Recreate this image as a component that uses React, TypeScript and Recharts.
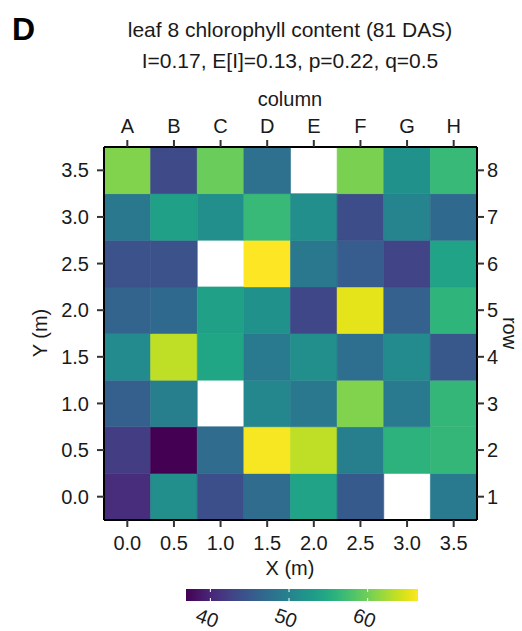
import React from 'react';
import { ScatterChart, Scatter, XAxis, YAxis, ReferenceArea } from 'recharts';

// grid positions (m) and labels
const xPositions = [0, 0.5, 1, 1.5, 2, 2.5, 3, 3.5];
const yPositions = [0, 0.5, 1, 1.5, 2, 2.5, 3, 3.5];
const columnLabels = ['A', 'B', 'C', 'D', 'E', 'F', 'G', 'H'];
const rowLabels = ['1', '2', '3', '4', '5', '6', '7', '8'];

// chlorophyll content per row (row 1 = Y 0.0), columns A..H; null = missing plant
const row1 = [40.7, 51.4, 44.0, 47.2, 54.0, 45.2, null, 49.0];
const row2 = [42.2, 36.9, 47.2, 66.1, 63.5, 49.6, 55.8, 56.4];
const row3 = [45.7, 49.6, null, 50.5, 48.7, 60.8, 49.0, 56.4];
const row4 = [50.8, 63.5, 54.3, 49.0, 51.4, 47.5, 50.8, 44.9];
const row5 = [46.3, 46.9, 53.7, 51.7, 43.1, 65.2, 46.0, 56.1];
const row6 = [44.3, 44.3, null, 66.4, 48.7, 45.5, 42.8, 54.0];
const row7 = [48.7, 53.7, 51.4, 56.7, 51.4, 43.7, 50.2, 46.9];
const row8 = [60.8, 43.4, 59.6, 47.8, null, 60.5, 51.7, 56.7];
const rows = [row1, row2, row3, row4, row5, row6, row7, row8];

const colorbarTicks = [40, 50, 60];

const VIRIDIS = [
  '#440154', '#471365', '#482475', '#463480', '#414487', '#3b528b', '#355f8d',
  '#2f6c8e', '#2a788e', '#25848e', '#21918c', '#1e9c89', '#22a884', '#2fb47c',
  '#44bf70', '#5ec962', '#7ad151', '#9bd93c', '#bddf26', '#dfe318', '#fde725',
];

function hexToRgb(h: string) {
  return [parseInt(h.slice(1, 3), 16), parseInt(h.slice(3, 5), 16), parseInt(h.slice(5, 7), 16)];
}
function viridis(t: number) {
  const tt = Math.max(0, Math.min(1, t)) * (VIRIDIS.length - 1);
  const i = Math.min(Math.floor(tt), VIRIDIS.length - 2);
  const f = tt - i;
  const a = hexToRgb(VIRIDIS[i]);
  const b = hexToRgb(VIRIDIS[i + 1]);
  const c = a.map((v, k) => Math.round(v + (b[k] - v) * f));
  return `rgb(${c[0]},${c[1]},${c[2]})`;
}

const allValues = rows.flat().filter((v) => v !== null) as number[];
const vmin = Math.min(...allValues);
const vmax = Math.max(...allValues);

const cells: { x: number; y: number; value: number; color: string }[] = [];
rows.forEach((r, ri) =>
  r.forEach((v, ci) => {
    if (v !== null) {
      cells.push({ x: xPositions[ci], y: yPositions[ri], value: v, color: viridis((v - vmin) / (vmax - vmin)) });
    }
  })
);

const FONT = '"Liberation Sans", Arial, sans-serif';
const half = 0.25;
const domain: [number, number] = [xPositions[0] - half, xPositions[xPositions.length - 1] + half];
const ydomain: [number, number] = [yPositions[0] - half, yPositions[yPositions.length - 1] + half];

const tickStyle = { fill: '#1a1a1a', fontSize: 20, fontFamily: FONT };
const tickLine = { stroke: '#333', strokeWidth: 2 };
const axisLine = { stroke: '#000', strokeWidth: 2 };

// colorbar legend geometry
const CB_X = 186;
const CB_W = 232;
const CB_Y = 589;
const CB_H = 12;
const cbScale = (v: number) => CB_X + ((v - vmin) / (vmax - vmin)) * CB_W;

export default function App() {
  return (
    <div style={{ position: 'absolute', left: 0, top: 0, width: 522, height: 631, background: '#fff', fontFamily: FONT }}>
      <ScatterChart width={522} height={631} margin={{ top: 107, right: 0, bottom: 51, left: 0 }}>
        {cells.map((c, i) => (
          <ReferenceArea
            key={i}
            xAxisId="bottom"
            yAxisId="left"
            x1={c.x - half}
            x2={c.x + half}
            y1={c.y - half}
            y2={c.y + half}
            fill={c.color}
            fillOpacity={1}
            stroke={c.color}
            strokeWidth={0.6}
            ifOverflow="visible"
          />
        ))}
        <XAxis
          xAxisId="bottom"
          type="number"
          dataKey="x"
          domain={domain}
          ticks={xPositions}
          tickFormatter={(v: number) => v.toFixed(1)}
          height={60}
          tick={tickStyle}
          tickLine={tickLine}
          axisLine={axisLine}
          tickSize={7}
          tickMargin={9}
          interval={0}
        />
        <XAxis
          xAxisId="top"
          orientation="top"
          type="number"
          dataKey="x"
          domain={domain}
          ticks={xPositions}
          tickFormatter={(v: number) => columnLabels[xPositions.indexOf(v)] ?? ''}
          height={40}
          tick={tickStyle}
          tickLine={tickLine}
          axisLine={axisLine}
          tickSize={7}
          tickMargin={7}
          interval={0}
        />
        <YAxis
          yAxisId="left"
          type="number"
          dataKey="y"
          domain={ydomain}
          ticks={yPositions}
          tickFormatter={(v: number) => v.toFixed(1)}
          width={104}
          tick={tickStyle}
          tickLine={tickLine}
          axisLine={axisLine}
          tickSize={7}
          tickMargin={8}
          interval={0}
        />
        <YAxis
          yAxisId="right"
          orientation="right"
          type="number"
          dataKey="y"
          domain={ydomain}
          ticks={yPositions}
          tickFormatter={(v: number) => rowLabels[yPositions.indexOf(v)] ?? ''}
          width={45}
          tick={tickStyle}
          tickLine={tickLine}
          axisLine={axisLine}
          tickSize={7}
          tickMargin={3}
          interval={0}
        />
        <Scatter data={cells} xAxisId="bottom" yAxisId="left" isAnimationActive={false} shape={() => <g />} />
        <Scatter data={cells} xAxisId="top" yAxisId="right" isAnimationActive={false} shape={() => <g />} />
      </ScatterChart>
      <svg
        width={522}
        height={631}
        style={{ position: 'absolute', left: 0, top: 0, pointerEvents: 'none' }}
        fontFamily={FONT}
      >
        <defs>
          <linearGradient id="viridisGrad" x1="0" x2="1" y1="0" y2="0">
            {VIRIDIS.map((c, i) => (
              <stop key={i} offset={`${(i / (VIRIDIS.length - 1)) * 100}%`} stopColor={c} />
            ))}
          </linearGradient>
        </defs>
        <text x={12} y={40} fontSize={32} fontWeight="bold" fill="#000">D</text>
        <text x={290} y={37} fontSize={21} textAnchor="middle" fill="#1a1a1a">leaf 8 chlorophyll content (81 DAS)</text>
        <text x={290} y={68} fontSize={21} textAnchor="middle" fill="#1a1a1a">I=0.17, E[I]=0.13, p=0.22, q=0.5</text>
        <text x={290} y={106} fontSize={20} textAnchor="middle" fill="#1a1a1a">column</text>
        <text x={290} y={575} fontSize={20} textAnchor="middle" fill="#1a1a1a">X (m)</text>
        <text x={47} y={333} fontSize={20} textAnchor="middle" fill="#1a1a1a" transform="rotate(-90 47 333)">Y (m)</text>
        <text x={503} y={333} fontSize={20} textAnchor="middle" fill="#1a1a1a" transform="rotate(90 503 333)">row</text>
        <rect x={CB_X} y={CB_Y} width={CB_W} height={CB_H} fill="url(#viridisGrad)" />
        {colorbarTicks.map((t) => (
          <g key={t}>
            <line x1={cbScale(t)} x2={cbScale(t)} y1={CB_Y} y2={CB_Y + 3} stroke="#fff" strokeWidth={1} />
            <line x1={cbScale(t)} x2={cbScale(t)} y1={CB_Y + CB_H - 3} y2={CB_Y + CB_H} stroke="#fff" strokeWidth={1} />
            <text
              x={cbScale(t) - 3}
              y={625}
              fontSize={20}
              textAnchor="middle"
              fill="#1a1a1a"
              transform={`rotate(20 ${cbScale(t) - 3} 618)`}
            >
              {t}
            </text>
          </g>
        ))}
      </svg>
    </div>
  );
}
